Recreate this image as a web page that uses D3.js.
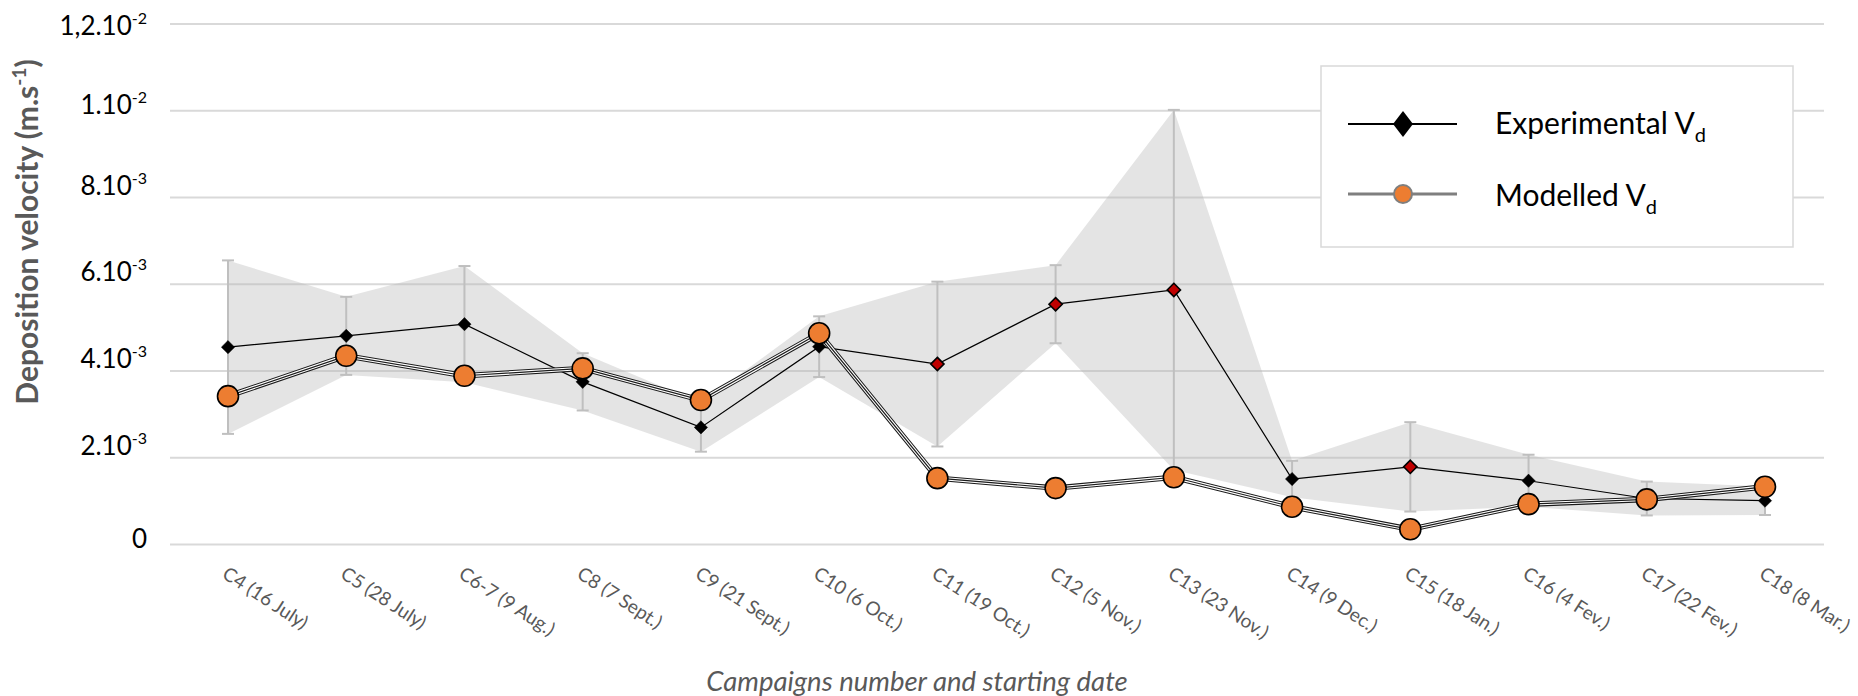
<!DOCTYPE html>
<html>
<head>
<meta charset="utf-8">
<script src="https://cdn.jsdelivr.net/npm/d3@7"></script>
<style>
  body { margin: 0; background: #fff; }
  text { font-family: Lato, "Open Sans", sans-serif; }
</style>
</head>
<body>
<div class="chart"></div>
<script>
var svgWidth = 1858;
var svgHeight = 696;

// campaigns (x categories)
var campaigns = ["C4 (16 July)", "C5 (28 July)", "C6-7 (9 Aug.)", "C8 (7 Sept.)", "C9 (21 Sept.)",
  "C10 (6 Oct.)", "C11 (19 Oct.)", "C12 (5 Nov.)", "C13 (23 Nov.)", "C14 (9 Dec.)",
  "C15 (18 Jan.)", "C16 (4 Fev.)", "C17 (22 Fev.)", "C18 (8 Mar.)"];

// experimental Vd (m/s) and its uncertainty
var experimental = [4.55e-3, 4.81e-3, 5.08e-3, 3.75e-3, 2.70e-3, 4.56e-3, 4.16e-3, 5.54e-3, 5.87e-3,
  1.51e-3, 1.79e-3, 1.47e-3, 1.06e-3, 1.01e-3];
var expError = [2.0e-3, 0.9e-3, 1.34e-3, 0.66e-3, 0.56e-3, 0.70e-3, 1.9e-3, 0.9e-3, 4.15e-3,
  0.42e-3, 1.03e-3, 0.6e-3, 0.39e-3, 0.33e-3];
// campaigns with a red marker
var flagged = [false, false, false, false, false, false, true, true, true, false, true, false, false, false];

// modelled Vd (m/s)
var modelled = [3.42e-3, 4.35e-3, 3.89e-3, 4.06e-3, 3.33e-3, 4.87e-3, 1.53e-3, 1.30e-3, 1.55e-3,
  0.87e-3, 0.35e-3, 0.93e-3, 1.04e-3, 1.33e-3];

// y tick values and labels (mantissa, exponent)
var yTicks = [0, 0.002, 0.004, 0.006, 0.008, 0.010, 0.012];
var yTickLabels = [["0", ""], ["2.10", "-3"], ["4.10", "-3"], ["6.10", "-3"], ["8.10", "-3"], ["1.10", "-2"], ["1,2.10", "-2"]];

var svg = d3.select(".chart")
  .append("svg")
  .attr("width", svgWidth)
  .attr("height", svgHeight);

var x = d3.scalePoint().domain(campaigns).range([228, 1765]);
var y = d3.scaleLinear().domain([0, 0.012]).range([544.5, 24]);

var data = campaigns.map(function(c, i) {
  return { cat: c, exp: experimental[i], err: expError[i], red: flagged[i], mod: modelled[i] };
});

// gridlines
svg.append("g").selectAll("line")
  .data(yTicks)
  .enter()
  .append("line")
  .attr("x1", 170)
  .attr("x2", 1824)
  .attr("y1", d => y(d))
  .attr("y2", d => y(d))
  .attr("stroke", "#d9d9d9")
  .attr("stroke-width", 2);

// y tick labels (the original labels sit a bit unevenly around their lines)
function labelShift(d) {
  if (d === 0.012) return 11;
  if (d === 0.010 || d === 0) return 3;
  return -3;
}
var yLab = svg.append("g").selectAll("text")
  .data(yTicks)
  .enter()
  .append("text")
  .attr("x", 147)
  .attr("y", d => y(d) + labelShift(d))
  .attr("text-anchor", "end")
  .attr("font-size", 26)
  .attr("fill", "#000");
yLab.append("tspan").text((d, i) => yTickLabels[i][0]);
yLab.append("tspan")
  .attr("font-size", 16)
  .attr("dy", -11)
  .text((d, i) => yTickLabels[i][1]);

// uncertainty band
var band = d3.area()
  .x(d => x(d.cat))
  .y0(d => y(d.exp - d.err))
  .y1(d => y(d.exp + d.err));

svg.append("path")
  .datum(data)
  .attr("d", band)
  .attr("fill", "#b8b8b8")
  .attr("opacity", 0.38);

// error bars
var eb = svg.append("g").selectAll("g")
  .data(data)
  .enter()
  .append("g")
  .attr("stroke", "#bfbfbf")
  .attr("stroke-width", 2);
eb.append("line")
  .attr("x1", d => x(d.cat)).attr("x2", d => x(d.cat))
  .attr("y1", d => y(d.exp - d.err)).attr("y2", d => y(d.exp + d.err));
eb.append("line")
  .attr("x1", d => x(d.cat) - 6).attr("x2", d => x(d.cat) + 6)
  .attr("y1", d => y(d.exp + d.err)).attr("y2", d => y(d.exp + d.err));
eb.append("line")
  .attr("x1", d => x(d.cat) - 6).attr("x2", d => x(d.cat) + 6)
  .attr("y1", d => y(d.exp - d.err)).attr("y2", d => y(d.exp - d.err));

// experimental line + diamonds
var expLine = d3.line().x(d => x(d.cat)).y(d => y(d.exp));
svg.append("path")
  .datum(data)
  .attr("d", expLine)
  .attr("fill", "none")
  .attr("stroke", "#000")
  .attr("stroke-width", 1.2);

var diamond = d3.symbol().type(d3.symbolDiamond2).size(112);
svg.append("g").selectAll("path")
  .data(data)
  .enter()
  .append("path")
  .attr("d", diamond)
  .attr("transform", d => `translate(${x(d.cat)},${y(d.exp)})`)
  .attr("fill", d => d.red ? "#c00000" : "#000")
  .attr("stroke", "#000")
  .attr("stroke-width", d => d.red ? 1.6 : 0.5);

// modelled line (compound stroke) + circles
var modLine = d3.line().x(d => x(d.cat)).y(d => y(d.mod));
[["#1a1a1a", 5.5], ["#ffffff", 3.4], ["#1a1a1a", 1.2]].forEach(function(s) {
  svg.append("path")
    .datum(data)
    .attr("d", modLine)
    .attr("fill", "none")
    .attr("stroke", s[0])
    .attr("stroke-width", s[1]);
});

svg.append("g").selectAll("circle")
  .data(data)
  .enter()
  .append("circle")
  .attr("cx", d => x(d.cat))
  .attr("cy", d => y(d.mod))
  .attr("r", 10.5)
  .attr("fill", "#ed7d31")
  .attr("stroke", "#000")
  .attr("stroke-width", 1.6);

// x tick labels
svg.append("g").selectAll("text")
  .data(campaigns)
  .enter()
  .append("text")
  .attr("transform", d => `translate(${x(d) - 7},${577}) rotate(33)`)
  .attr("font-size", 19)
  .attr("fill", "#595959")
  .text(d => d);

// axis titles
svg.append("text")
  .attr("x", 917)
  .attr("y", 691)
  .attr("text-anchor", "middle")
  .attr("font-size", 27.5)
  .attr("font-style", "italic")
  .attr("fill", "#595959")
  .text("Campaigns number and starting date");

var yTitle = svg.append("text")
  .attr("transform", "translate(38,232) rotate(-90)")
  .attr("text-anchor", "middle")
  .attr("font-size", 30)
  .attr("font-weight", "bold")
  .attr("fill", "#595959");
yTitle.append("tspan").text("Deposition velocity (m.s");
yTitle.append("tspan").attr("font-size", 19).attr("dy", -12).text("-1");
yTitle.append("tspan").attr("dy", 12).text(")");

// legend
var legend = svg.append("g");
legend.append("rect")
  .attr("x", 1321).attr("y", 66)
  .attr("width", 472).attr("height", 181)
  .attr("fill", "#fff")
  .attr("stroke", "#d9d9d9")
  .attr("stroke-width", 1.5);

legend.append("line")
  .attr("x1", 1348).attr("x2", 1457).attr("y1", 124).attr("y2", 124)
  .attr("stroke", "#000").attr("stroke-width", 2);
legend.append("path")
  .attr("d", "M0,-13L10,0L0,13L-10,0Z")
  .attr("transform", "translate(1403,124)")
  .attr("fill", "#000");

legend.append("line")
  .attr("x1", 1348).attr("x2", 1457).attr("y1", 194).attr("y2", 194)
  .attr("stroke", "#7f7f7f").attr("stroke-width", 3);
legend.append("circle")
  .attr("cx", 1403).attr("cy", 194).attr("r", 9)
  .attr("fill", "#ed7d31")
  .attr("stroke", "#7f7f7f").attr("stroke-width", 2);

var legendNames = ["Experimental V", "Modelled V"];
legend.selectAll("text.lg")
  .data(legendNames)
  .enter()
  .append("text")
  .attr("class", "lg")
  .attr("x", 1495)
  .attr("y", (d, i) => 134 + i * 72)
  .attr("font-size", 30)
  .attr("fill", "#000")
  .each(function(d) {
    d3.select(this).append("tspan").text(d);
    d3.select(this).append("tspan").attr("font-size", 20).attr("dy", 8).text("d");
  });
</script>
</body>
</html>
